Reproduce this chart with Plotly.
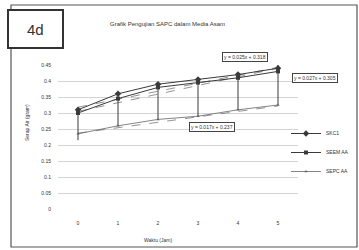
import plotly.graph_objects as go

# ---- data ----
waktu = [0, 1, 2, 3, 4, 5]
x_labels = ["0", "1", "2", "3", "4", "5"]
series_names = ["SKC1", "SEEM AA", "SEPC AA"]
s1 = [0.31, 0.36, 0.39, 0.405, 0.42, 0.44]
s2 = [0.30, 0.345, 0.38, 0.395, 0.41, 0.43]
s3 = [0.235, 0.26, 0.28, 0.29, 0.31, 0.325]
err_minus = [0.095, 0.10, 0.11, 0.115, 0.11, 0.115]
err_plus = [0.0, 0.0, 0.005, 0.0, 0.005, 0.01]
trend_slope = [0.025, 0.027, 0.017]
trend_icpt = [0.318, 0.305, 0.237]
trend_text = ["y = 0.025x + 0.318", "y = 0.027x + 0.305", "y = 0.017x + 0.237"]
y_ticks = [0, 0.05, 0.1, 0.15, 0.2, 0.25, 0.3, 0.35, 0.4, 0.45]
y_labels = ["0", "0.05", "0.1", "0.15", "0.2", "0.25", "0.3", "0.35", "0.4", "0.45"]

W, H = 359, 250
L, R, T, B = 58, 61, 65, 41
pw, ph = W - L - R, H - T - B


def px(x):
    return (x - L) / pw


def py(y):
    return (H - B - y) / ph


fig = go.Figure()
FONT = "Liberation Sans"
dark = "#3a3a3a"

# trendlines
for m, c in zip(trend_slope, trend_icpt):
    fig.add_trace(go.Scatter(
        x=waktu, y=[m * v + c for v in waktu], mode="lines",
        line=dict(color="#777", width=0.8, dash="dash"),
        showlegend=False, hoverinfo="skip"))

fig.add_trace(go.Scatter(
    x=waktu, y=s1, name=series_names[0], mode="lines+markers",
    line=dict(color=dark, width=1), marker=dict(symbol="diamond", size=5, color=dark),
    error_y=dict(type="data", symmetric=False, array=err_plus, arrayminus=err_minus,
                 color=dark, thickness=1, width=0)))
fig.add_trace(go.Scatter(
    x=waktu, y=s2, name=series_names[1], mode="lines+markers",
    line=dict(color=dark, width=1), marker=dict(symbol="square", size=4, color=dark)))
fig.add_trace(go.Scatter(
    x=waktu, y=s3, name=series_names[2], mode="lines+markers",
    line=dict(color="#666", width=0.8), marker=dict(symbol="triangle-up", size=3, color="#666")))

shapes = [
    dict(type="rect", xref="paper", yref="paper", x0=px(11), x1=px(357), y0=py(247), y1=py(5),
         line=dict(color="#555", width=1.2)),
    dict(type="rect", xref="paper", yref="paper", x0=px(8), x1=px(63), y0=py(48), y1=py(10),
         line=dict(color="#333", width=2), fillcolor="white"),
]


def ann(text, x, y, size, boxed=False, angle=0):
    d = dict(text=text, x=px(x), y=py(y), xref="paper", yref="paper", showarrow=False,
             xanchor="center", yanchor="middle", textangle=angle,
             font=dict(size=size, color="#333", family=FONT))
    if boxed:
        d.update(bordercolor="#444", borderwidth=1, bgcolor="white", borderpad=1)
    return d


annotations = [
    ann("4d", 35, 29, 15),
    ann("Grafik Pengujian SAPC dalam Media Asam", 167, 24, 6),
    ann(trend_text[0], 245, 57, 5, True),
    ann(trend_text[1], 315, 78, 5, True),
    ann(trend_text[2], 212, 127, 5, True),
    ann("Waktu (Jam)", 158, 240, 5),
    ann("Serap Air (gram)", 27, 122, 5, angle=-90),
]

fig.update_layout(
    width=W, height=H, margin=dict(l=L, r=R, t=T, b=B, autoexpand=False),
    paper_bgcolor="white", plot_bgcolor="white",
    font=dict(family=FONT, size=5, color="#333"),
    shapes=shapes, annotations=annotations,
    legend=dict(x=px(354), y=py(119), xanchor="right", yanchor="top",
                font=dict(size=5, color="#333"), bgcolor="rgba(0,0,0,0)",
                itemwidth=30),
    xaxis=dict(range=[-0.5, 5.5], tickvals=waktu, ticktext=x_labels, showgrid=False,
               zeroline=False, showline=False, ticks="", ticklabelstandoff=10,
               tickfont=dict(size=5)),
    yaxis=dict(range=[0, 0.45], tickvals=y_ticks, ticktext=y_labels, showgrid=True,
               gridcolor="#d4d4d4", gridwidth=0.8, zeroline=False, showline=False,
               ticklabelstandoff=6, tickfont=dict(size=5)),
)

fig.write_html("out.html", post_script="document.body.style.margin='0';",
               config={"displayModeBar": False})
